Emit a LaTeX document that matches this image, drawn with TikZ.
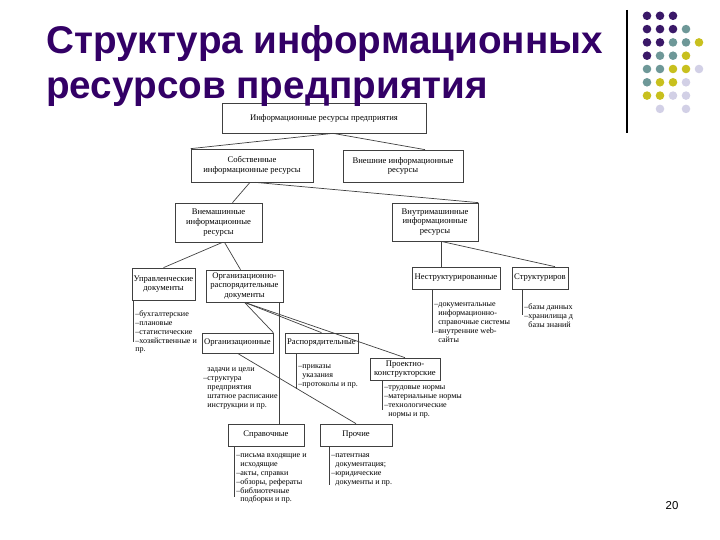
\documentclass[tikz,border=0pt]{standalone}
\usepackage{fontspec}
\setmainfont{Liberation Serif}
\newfontfamily\titlefont{Liberation Sans}
\usetikzlibrary{calc}

\definecolor{titlepurple}{RGB}{51,0,102}
\definecolor{dotp}{RGB}{58,24,104}
\definecolor{dott}{RGB}{110,152,152}
\definecolor{doty}{RGB}{200,192,30}
\definecolor{dotl}{RGB}{210,208,230}
\colorlet{dotn}{white}

\begin{document}
\begin{tikzpicture}[x=0.02cm,y=-0.02cm,
  box/.style={draw=black!75,line width=0.4pt,inner sep=0pt,align=center,
    font=\fontsize{4.9}{5.5}\selectfont},
  list/.style={anchor=north west,inner sep=0pt,align=left,
    font=\fontsize{4.6}{5.1}\selectfont},
  link/.style={draw=black!75,line width=0.4pt}]
\useasboundingbox (0,0) rectangle (720,540);

% Boxes
\node (top) [box,minimum width=4.08cm,minimum height=0.6cm] at (324,118) {Информационные ресурсы предприятия};
\node (own) [box,minimum width=2.44cm,minimum height=0.66cm] at (252,165.5) {Собственные\\информационные ресурсы};
\node (ext) [box,minimum width=2.4cm,minimum height=0.64cm] at (403,166) {Внешние информационные\\ресурсы};
\node (offm) [box,minimum width=1.74cm,minimum height=0.78cm] at (218.5,222.5) {Внемашинные\\информационные\\ресурсы};
\node (onm) [box,minimum width=1.72cm,minimum height=0.76cm] at (435,222) {Внутримашинные\\информационные\\ресурсы};
\node (mgmt) [box,minimum width=1.26cm,minimum height=0.64cm] at (163.5,284) {Управленческие\\документы};
\node (ord) [box,minimum width=1.54cm,minimum height=0.64cm] at (244.5,286) {Организационно-\\распорядительные\\документы};
\node (unstr) [box,minimum width=1.76cm,minimum height=0.44cm] at (456,278) {Неструктурированные};
\node (str) [box,minimum width=1.12cm,minimum height=0.44cm] at (540,278) {Структуриров};
\node (org) [box,minimum width=1.42cm,minimum height=0.4cm] at (237.5,343) {Организационные};
\node (disp) [box,minimum width=1.46cm,minimum height=0.4cm] at (321.5,343) {Распорядительные};
\node (proj) [box,minimum width=1.4cm,minimum height=0.44cm] at (405,369) {Проектно-\\конструкторские};
\node (ref) [box,minimum width=1.52cm,minimum height=0.44cm] at (266,435) {Справочные};
\node (other) [box,minimum width=1.44cm,minimum height=0.44cm] at (356,435) {Прочие};

% Connectors
\draw[link] ($(top.south)+(9,0)$) -- (own.north west);
\draw[link] ($(top.south)+(9,0)$) -- ($(ext.north)+(22,0)$);
\draw[link] ($(own.south)+(-2,0)$) -- ($(offm.north)+(14,0)$);
\draw[link] ($(own.south)+(3,0)$) -- (onm.north east);
\draw[link] ($(offm.south)+(4,0)$) -- (mgmt.north);
\draw[link] ($(offm.south)+(6,0)$) -- ($(ord.north)+(-4,0)$);
\draw[link] ($(onm.south)+(6,0)$) -- ($(unstr.north)+(-15,0)$);
\draw[link] ($(onm.south)+(6,0)$) -- ($(str.north)+(15,0)$);
\draw[link] (ord.south) -- (org.north east);
\draw[link] (ord.south) -- (disp.north);
\draw[link] (ord.south) -- (proj.north);
\coordinate (refin) at ($(ref.north)+(13,0)$);
\draw[link] (refin) -- (refin |- ord.south);
\draw[link] (org.south) -- (other.north);

% Lists
\draw[link] ($(mgmt.south west)+(2,0)$) -- ++(0,42);
\node (mgmtlist) [list] at (135,310) {–бухгалтерские\\–плановые\\–статистические\\–хозяйственные и\\пр.};
\draw[link] ($(unstr.south west)+(21,0)$) -- ++(0,44);
\node (unstrlist) [list] at (434,302) {–документальные\\\phantom{–}информационно-\\\phantom{–}справочные системы\\–внутренние web-\\\phantom{–}сайты};
\draw[link] ($(str.south west)+(11,0)$) -- ++(0,26);
\node (strlist) [list] at (524,303) {–базы данных\\–хранилища д\\\phantom{–}базы знаний};
\node (orglist) [list] at (203,367) {\phantom{–}задачи и цели\\–структура\\\phantom{–}предприятия\\\phantom{–}штатное расписание\\\phantom{–}инструкции и пр.};
\draw[link] ($(disp.south west)+(12,0)$) -- ++(0,36);
\node (displist) [list] at (298,364) {–приказы\\\phantom{–}указания\\–протоколы и пр.};
\draw[link] ($(proj.south west)+(13,0)$) -- ++(0,30);
\node (projlist) [list] at (384,385) {–трудовые нормы\\–материальные нормы\\–технологические\\\phantom{–}нормы и пр.};
\draw[link] ($(ref.south west)+(7,0)$) -- ++(0,51);
\node (reflist) [list] at (236,453) {–письма входящие и\\\phantom{–}исходящие\\–акты, справки\\–обзоры, рефераты\\–библиотечные\\\phantom{–}подборки и пр.};
\draw[link] ($(other.south west)+(10,0)$) -- ++(0,39);
\node (otherlist) [list] at (331,453) {–патентная\\\phantom{–}документация;\\–юридические\\\phantom{–}документы и пр.};

% Title
\node (title1) [anchor=base west,inner sep=0pt,text=titlepurple,font=\titlefont\bfseries\fontsize{22}{26}\selectfont] at (46,54) {Структура информационных};
\node (title2) [anchor=base west,inner sep=0pt,text=titlepurple,font=\titlefont\bfseries\fontsize{22}{26}\selectfont] at (46,99) {ресурсов предприятия};

% Decoration
\draw[line width=1.1pt] (627,10) -- (627,133);
\foreach \row [count=\r] in {{p,p,p},{p,p,p,t},{p,p,t,t,y},{p,t,t,y},{t,t,y,y,l},{t,y,y,l},{y,y,l,l},{n,l,n,l}}
  \foreach \cl [count=\c] in \row
    \path[fill=dot\cl] (634+13*\c,2.5+13.3*\r) circle (4.3);

\node (pagenum) at (672,506) {\titlefont\fontsize{6.5}{7}\selectfont 20};
\end{tikzpicture}
\end{document}
